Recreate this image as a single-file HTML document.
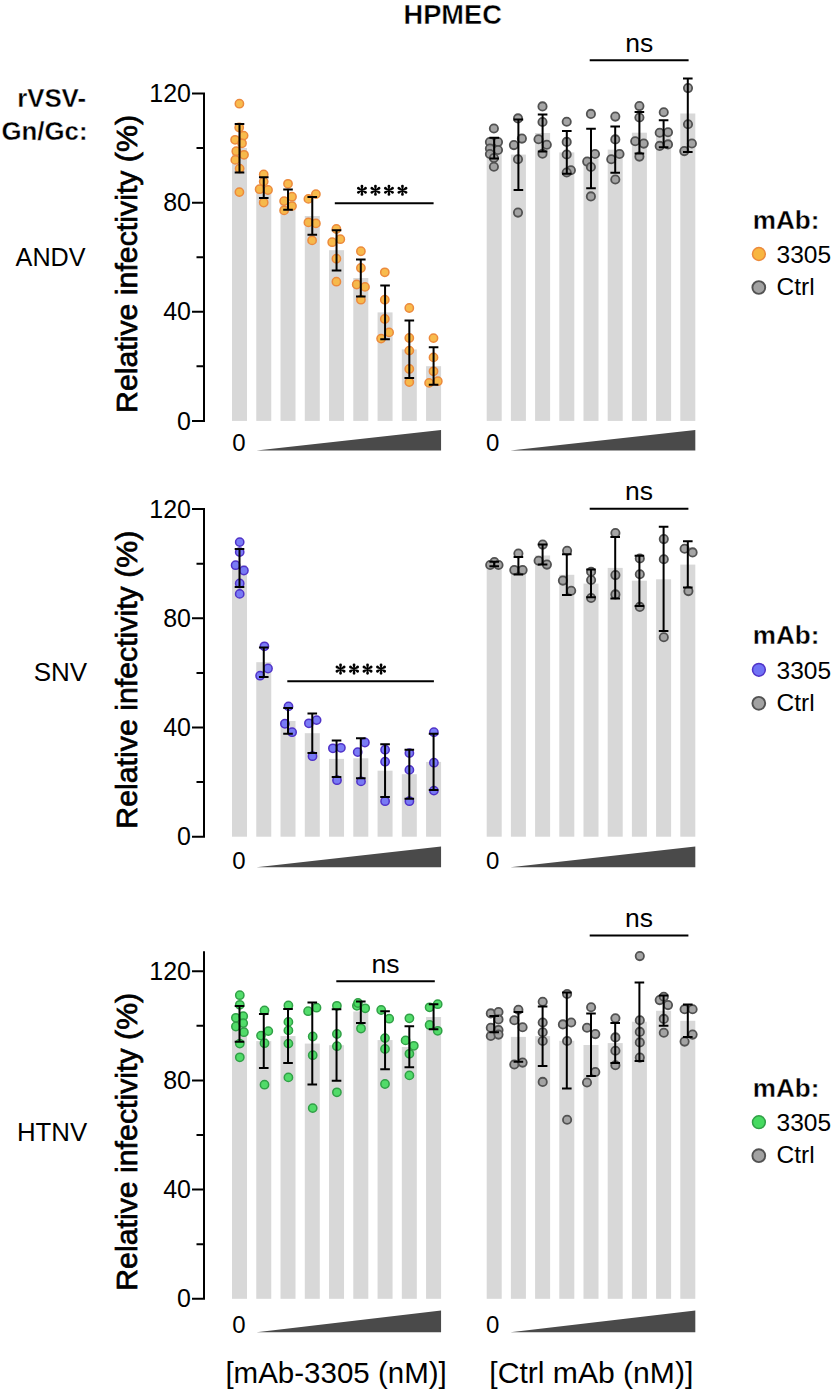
<!DOCTYPE html>
<html><head><meta charset="utf-8"><title>HPMEC</title>
<style>html,body{margin:0;padding:0;background:#fff;}body{width:832px;height:1392px;position:relative;overflow:hidden;font-family:"Liberation Sans",sans-serif;}</style>
</head><body>
<svg width="832" height="1392" viewBox="0 0 832 1392" style="position:absolute;left:0;top:0">
<g font-family='"Liberation Sans", sans-serif' fill="#000">
<text x="452.7" y="24.2" font-size="27.2" font-weight="bold" stroke="#fff" stroke-width="0.4" text-anchor="middle">HPMEC</text>
<text x="86" y="106.5" font-size="25.8" font-weight="bold" stroke="#fff" stroke-width="0.35" text-anchor="end">rVSV-</text>
<text x="87.5" y="139.7" font-size="25.8" font-weight="bold" stroke="#fff" stroke-width="0.35" text-anchor="end">Gn/Gc:</text>
</g>
<path d="M204.0 93.5V420.9M204.0 420.9H193M204.0 311.77H193M204.0 202.63H193M204.0 93.5H193M204.0 366.33H197.5M204.0 257.2H197.5M204.0 148.07H197.5" stroke="#000" stroke-width="2" fill="none" stroke-linecap="square"/>
<g font-family='"Liberation Sans", sans-serif' font-size="25" fill="#000" text-anchor="end">
<text x="191" y="429.5">0</text>
<text x="191" y="320.37">40</text>
<text x="191" y="211.23">80</text>
<text x="191" y="102.1">120</text>
</g>
<rect x="232" y="148" width="15" height="272.9" fill="#d8d8d8"/>
<rect x="256.26" y="187.6" width="15" height="233.3" fill="#d8d8d8"/>
<rect x="280.52" y="199.6" width="15" height="221.3" fill="#d8d8d8"/>
<rect x="304.78" y="216" width="15" height="204.9" fill="#d8d8d8"/>
<rect x="329.04" y="250.2" width="15" height="170.7" fill="#d8d8d8"/>
<rect x="353.3" y="278" width="15" height="142.9" fill="#d8d8d8"/>
<rect x="377.56" y="312.4" width="15" height="108.5" fill="#d8d8d8"/>
<rect x="401.82" y="349.4" width="15" height="71.5" fill="#d8d8d8"/>
<rect x="426.08" y="366.2" width="15" height="54.7" fill="#d8d8d8"/>
<circle cx="239.4" cy="103.7" r="4.15" fill="#f8b640" fill-opacity="0.93" stroke="#ec8a3c" stroke-width="1.5"/>
<circle cx="239.2" cy="127.5" r="4.15" fill="#f8b640" fill-opacity="0.93" stroke="#ec8a3c" stroke-width="1.5"/>
<circle cx="243.6" cy="135.6" r="4.15" fill="#f8b640" fill-opacity="0.93" stroke="#ec8a3c" stroke-width="1.5"/>
<circle cx="235.1" cy="139.8" r="4.15" fill="#f8b640" fill-opacity="0.93" stroke="#ec8a3c" stroke-width="1.5"/>
<circle cx="242" cy="143.3" r="4.15" fill="#f8b640" fill-opacity="0.93" stroke="#ec8a3c" stroke-width="1.5"/>
<circle cx="236.3" cy="151.2" r="4.15" fill="#f8b640" fill-opacity="0.93" stroke="#ec8a3c" stroke-width="1.5"/>
<circle cx="244" cy="154.8" r="4.15" fill="#f8b640" fill-opacity="0.93" stroke="#ec8a3c" stroke-width="1.5"/>
<circle cx="235.3" cy="159.9" r="4.15" fill="#f8b640" fill-opacity="0.93" stroke="#ec8a3c" stroke-width="1.5"/>
<circle cx="239.6" cy="168.6" r="4.15" fill="#f8b640" fill-opacity="0.93" stroke="#ec8a3c" stroke-width="1.5"/>
<circle cx="239.4" cy="192.1" r="4.15" fill="#f8b640" fill-opacity="0.93" stroke="#ec8a3c" stroke-width="1.5"/>
<circle cx="263.7" cy="174.4" r="4.15" fill="#f8b640" fill-opacity="0.93" stroke="#ec8a3c" stroke-width="1.5"/>
<circle cx="263.7" cy="181.6" r="4.15" fill="#f8b640" fill-opacity="0.93" stroke="#ec8a3c" stroke-width="1.5"/>
<circle cx="259.6" cy="189.2" r="4.15" fill="#f8b640" fill-opacity="0.93" stroke="#ec8a3c" stroke-width="1.5"/>
<circle cx="268" cy="190" r="4.15" fill="#f8b640" fill-opacity="0.93" stroke="#ec8a3c" stroke-width="1.5"/>
<circle cx="263.7" cy="202.5" r="4.15" fill="#f8b640" fill-opacity="0.93" stroke="#ec8a3c" stroke-width="1.5"/>
<circle cx="288" cy="183.8" r="4.15" fill="#f8b640" fill-opacity="0.93" stroke="#ec8a3c" stroke-width="1.5"/>
<circle cx="292" cy="196.7" r="4.15" fill="#f8b640" fill-opacity="0.93" stroke="#ec8a3c" stroke-width="1.5"/>
<circle cx="284.1" cy="201.1" r="4.15" fill="#f8b640" fill-opacity="0.93" stroke="#ec8a3c" stroke-width="1.5"/>
<circle cx="292" cy="206.1" r="4.15" fill="#f8b640" fill-opacity="0.93" stroke="#ec8a3c" stroke-width="1.5"/>
<circle cx="284.1" cy="210.4" r="4.15" fill="#f8b640" fill-opacity="0.93" stroke="#ec8a3c" stroke-width="1.5"/>
<circle cx="315.9" cy="194.1" r="4.15" fill="#f8b640" fill-opacity="0.93" stroke="#ec8a3c" stroke-width="1.5"/>
<circle cx="308.4" cy="198.9" r="4.15" fill="#f8b640" fill-opacity="0.93" stroke="#ec8a3c" stroke-width="1.5"/>
<circle cx="308.4" cy="222.4" r="4.15" fill="#f8b640" fill-opacity="0.93" stroke="#ec8a3c" stroke-width="1.5"/>
<circle cx="315.9" cy="223.4" r="4.15" fill="#f8b640" fill-opacity="0.93" stroke="#ec8a3c" stroke-width="1.5"/>
<circle cx="312.1" cy="240.4" r="4.15" fill="#f8b640" fill-opacity="0.93" stroke="#ec8a3c" stroke-width="1.5"/>
<circle cx="336.4" cy="229" r="4.15" fill="#f8b640" fill-opacity="0.93" stroke="#ec8a3c" stroke-width="1.5"/>
<circle cx="340.3" cy="239.2" r="4.15" fill="#f8b640" fill-opacity="0.93" stroke="#ec8a3c" stroke-width="1.5"/>
<circle cx="332.2" cy="242.2" r="4.15" fill="#f8b640" fill-opacity="0.93" stroke="#ec8a3c" stroke-width="1.5"/>
<circle cx="336.4" cy="258.75" r="4.15" fill="#f8b640" fill-opacity="0.93" stroke="#ec8a3c" stroke-width="1.5"/>
<circle cx="336.4" cy="281.7" r="4.15" fill="#f8b640" fill-opacity="0.93" stroke="#ec8a3c" stroke-width="1.5"/>
<circle cx="360.9" cy="251.25" r="4.15" fill="#f8b640" fill-opacity="0.93" stroke="#ec8a3c" stroke-width="1.5"/>
<circle cx="360.9" cy="268" r="4.15" fill="#f8b640" fill-opacity="0.93" stroke="#ec8a3c" stroke-width="1.5"/>
<circle cx="356.7" cy="284.5" r="4.15" fill="#f8b640" fill-opacity="0.93" stroke="#ec8a3c" stroke-width="1.5"/>
<circle cx="365" cy="286.9" r="4.15" fill="#f8b640" fill-opacity="0.93" stroke="#ec8a3c" stroke-width="1.5"/>
<circle cx="360.9" cy="299.7" r="4.15" fill="#f8b640" fill-opacity="0.93" stroke="#ec8a3c" stroke-width="1.5"/>
<circle cx="384.8" cy="272.3" r="4.15" fill="#f8b640" fill-opacity="0.93" stroke="#ec8a3c" stroke-width="1.5"/>
<circle cx="384.8" cy="299.7" r="4.15" fill="#f8b640" fill-opacity="0.93" stroke="#ec8a3c" stroke-width="1.5"/>
<circle cx="384.8" cy="319" r="4.15" fill="#f8b640" fill-opacity="0.93" stroke="#ec8a3c" stroke-width="1.5"/>
<circle cx="389.1" cy="332.4" r="4.15" fill="#f8b640" fill-opacity="0.93" stroke="#ec8a3c" stroke-width="1.5"/>
<circle cx="381.1" cy="338.6" r="4.15" fill="#f8b640" fill-opacity="0.93" stroke="#ec8a3c" stroke-width="1.5"/>
<circle cx="409.3" cy="308" r="4.15" fill="#f8b640" fill-opacity="0.93" stroke="#ec8a3c" stroke-width="1.5"/>
<circle cx="409.3" cy="338" r="4.15" fill="#f8b640" fill-opacity="0.93" stroke="#ec8a3c" stroke-width="1.5"/>
<circle cx="409.3" cy="350.6" r="4.15" fill="#f8b640" fill-opacity="0.93" stroke="#ec8a3c" stroke-width="1.5"/>
<circle cx="409.3" cy="369" r="4.15" fill="#f8b640" fill-opacity="0.93" stroke="#ec8a3c" stroke-width="1.5"/>
<circle cx="409.3" cy="382.1" r="4.15" fill="#f8b640" fill-opacity="0.93" stroke="#ec8a3c" stroke-width="1.5"/>
<circle cx="433.5" cy="338.1" r="4.15" fill="#f8b640" fill-opacity="0.93" stroke="#ec8a3c" stroke-width="1.5"/>
<circle cx="433.5" cy="357.4" r="4.15" fill="#f8b640" fill-opacity="0.93" stroke="#ec8a3c" stroke-width="1.5"/>
<circle cx="433.5" cy="371.3" r="4.15" fill="#f8b640" fill-opacity="0.93" stroke="#ec8a3c" stroke-width="1.5"/>
<circle cx="429.1" cy="382.9" r="4.15" fill="#f8b640" fill-opacity="0.93" stroke="#ec8a3c" stroke-width="1.5"/>
<circle cx="437.8" cy="381.2" r="4.15" fill="#f8b640" fill-opacity="0.93" stroke="#ec8a3c" stroke-width="1.5"/>
<path d="M239.5 123.9V172.4M234.7 123.9H244.3M234.7 172.4H244.3" stroke="#000" stroke-width="2" fill="none"/>
<path d="M263.76 177.3V197.9M258.96 177.3H268.56M258.96 197.9H268.56" stroke="#000" stroke-width="2" fill="none"/>
<path d="M288.02 189.5V209.7M283.22 189.5H292.82M283.22 209.7H292.82" stroke="#000" stroke-width="2" fill="none"/>
<path d="M312.28 197V234.7M307.48 197H317.08M307.48 234.7H317.08" stroke="#000" stroke-width="2" fill="none"/>
<path d="M336.54 230.2V270.5M331.74 230.2H341.34M331.74 270.5H341.34" stroke="#000" stroke-width="2" fill="none"/>
<path d="M360.8 259.4V296.6M356 259.4H365.6M356 296.6H365.6" stroke="#000" stroke-width="2" fill="none"/>
<path d="M385.06 285.6V339.2M380.26 285.6H389.86M380.26 339.2H389.86" stroke="#000" stroke-width="2" fill="none"/>
<path d="M409.32 320.4V378.1M404.52 320.4H414.12M404.52 378.1H414.12" stroke="#000" stroke-width="2" fill="none"/>
<path d="M433.58 347.3V384.8M428.78 347.3H438.38M428.78 384.8H438.38" stroke="#000" stroke-width="2" fill="none"/>
<rect x="486.7" y="148.2" width="15" height="272.7" fill="#d8d8d8"/>
<rect x="510.9" y="154.6" width="15" height="266.3" fill="#d8d8d8"/>
<rect x="535.1" y="133" width="15" height="287.9" fill="#d8d8d8"/>
<rect x="559.3" y="152.4" width="15" height="268.5" fill="#d8d8d8"/>
<rect x="583.5" y="158.5" width="15" height="262.4" fill="#d8d8d8"/>
<rect x="607.7" y="149.6" width="15" height="271.3" fill="#d8d8d8"/>
<rect x="631.9" y="132.7" width="15" height="288.2" fill="#d8d8d8"/>
<rect x="656.1" y="133.7" width="15" height="287.2" fill="#d8d8d8"/>
<rect x="680.3" y="113.5" width="15" height="307.4" fill="#d8d8d8"/>
<circle cx="493.9" cy="128.5" r="4.15" fill="#9e9e9e" fill-opacity="0.93" stroke="#525252" stroke-width="1.8"/>
<circle cx="489.9" cy="142.1" r="4.15" fill="#9e9e9e" fill-opacity="0.93" stroke="#525252" stroke-width="1.8"/>
<circle cx="498" cy="142.1" r="4.15" fill="#9e9e9e" fill-opacity="0.93" stroke="#525252" stroke-width="1.8"/>
<circle cx="489.9" cy="148.5" r="4.15" fill="#9e9e9e" fill-opacity="0.93" stroke="#525252" stroke-width="1.8"/>
<circle cx="498" cy="150" r="4.15" fill="#9e9e9e" fill-opacity="0.93" stroke="#525252" stroke-width="1.8"/>
<circle cx="489.9" cy="154" r="4.15" fill="#9e9e9e" fill-opacity="0.93" stroke="#525252" stroke-width="1.8"/>
<circle cx="493.9" cy="158" r="4.15" fill="#9e9e9e" fill-opacity="0.93" stroke="#525252" stroke-width="1.8"/>
<circle cx="493.9" cy="166.8" r="4.15" fill="#9e9e9e" fill-opacity="0.93" stroke="#525252" stroke-width="1.8"/>
<circle cx="518" cy="118.4" r="4.15" fill="#9e9e9e" fill-opacity="0.93" stroke="#525252" stroke-width="1.8"/>
<circle cx="521.9" cy="138.6" r="4.15" fill="#9e9e9e" fill-opacity="0.93" stroke="#525252" stroke-width="1.8"/>
<circle cx="513.9" cy="145.1" r="4.15" fill="#9e9e9e" fill-opacity="0.93" stroke="#525252" stroke-width="1.8"/>
<circle cx="518" cy="159.2" r="4.15" fill="#9e9e9e" fill-opacity="0.93" stroke="#525252" stroke-width="1.8"/>
<circle cx="518" cy="212.6" r="4.15" fill="#9e9e9e" fill-opacity="0.93" stroke="#525252" stroke-width="1.8"/>
<circle cx="542.5" cy="106.4" r="4.15" fill="#9e9e9e" fill-opacity="0.93" stroke="#525252" stroke-width="1.8"/>
<circle cx="542.5" cy="122" r="4.15" fill="#9e9e9e" fill-opacity="0.93" stroke="#525252" stroke-width="1.8"/>
<circle cx="538.5" cy="139.3" r="4.15" fill="#9e9e9e" fill-opacity="0.93" stroke="#525252" stroke-width="1.8"/>
<circle cx="546.8" cy="144.8" r="4.15" fill="#9e9e9e" fill-opacity="0.93" stroke="#525252" stroke-width="1.8"/>
<circle cx="542.5" cy="153.75" r="4.15" fill="#9e9e9e" fill-opacity="0.93" stroke="#525252" stroke-width="1.8"/>
<circle cx="566.7" cy="121.7" r="4.15" fill="#9e9e9e" fill-opacity="0.93" stroke="#525252" stroke-width="1.8"/>
<circle cx="566.7" cy="141.9" r="4.15" fill="#9e9e9e" fill-opacity="0.93" stroke="#525252" stroke-width="1.8"/>
<circle cx="566.7" cy="154.5" r="4.15" fill="#9e9e9e" fill-opacity="0.93" stroke="#525252" stroke-width="1.8"/>
<circle cx="570.9" cy="170.3" r="4.15" fill="#9e9e9e" fill-opacity="0.93" stroke="#525252" stroke-width="1.8"/>
<circle cx="566.7" cy="172.5" r="4.15" fill="#9e9e9e" fill-opacity="0.93" stroke="#525252" stroke-width="1.8"/>
<circle cx="590.9" cy="113.9" r="4.15" fill="#9e9e9e" fill-opacity="0.93" stroke="#525252" stroke-width="1.8"/>
<circle cx="595" cy="154" r="4.15" fill="#9e9e9e" fill-opacity="0.93" stroke="#525252" stroke-width="1.8"/>
<circle cx="587.2" cy="161.6" r="4.15" fill="#9e9e9e" fill-opacity="0.93" stroke="#525252" stroke-width="1.8"/>
<circle cx="590.9" cy="167" r="4.15" fill="#9e9e9e" fill-opacity="0.93" stroke="#525252" stroke-width="1.8"/>
<circle cx="590.9" cy="196.4" r="4.15" fill="#9e9e9e" fill-opacity="0.93" stroke="#525252" stroke-width="1.8"/>
<circle cx="615.3" cy="116.6" r="4.15" fill="#9e9e9e" fill-opacity="0.93" stroke="#525252" stroke-width="1.8"/>
<circle cx="615.3" cy="139.4" r="4.15" fill="#9e9e9e" fill-opacity="0.93" stroke="#525252" stroke-width="1.8"/>
<circle cx="619.5" cy="154" r="4.15" fill="#9e9e9e" fill-opacity="0.93" stroke="#525252" stroke-width="1.8"/>
<circle cx="611.25" cy="159.2" r="4.15" fill="#9e9e9e" fill-opacity="0.93" stroke="#525252" stroke-width="1.8"/>
<circle cx="615.3" cy="179.5" r="4.15" fill="#9e9e9e" fill-opacity="0.93" stroke="#525252" stroke-width="1.8"/>
<circle cx="639.4" cy="106.1" r="4.15" fill="#9e9e9e" fill-opacity="0.93" stroke="#525252" stroke-width="1.8"/>
<circle cx="639.4" cy="117.5" r="4.15" fill="#9e9e9e" fill-opacity="0.93" stroke="#525252" stroke-width="1.8"/>
<circle cx="635.2" cy="141.25" r="4.15" fill="#9e9e9e" fill-opacity="0.93" stroke="#525252" stroke-width="1.8"/>
<circle cx="643.75" cy="143.6" r="4.15" fill="#9e9e9e" fill-opacity="0.93" stroke="#525252" stroke-width="1.8"/>
<circle cx="639.4" cy="156.6" r="4.15" fill="#9e9e9e" fill-opacity="0.93" stroke="#525252" stroke-width="1.8"/>
<circle cx="663.75" cy="112.3" r="4.15" fill="#9e9e9e" fill-opacity="0.93" stroke="#525252" stroke-width="1.8"/>
<circle cx="659.7" cy="132.7" r="4.15" fill="#9e9e9e" fill-opacity="0.93" stroke="#525252" stroke-width="1.8"/>
<circle cx="668" cy="132.2" r="4.15" fill="#9e9e9e" fill-opacity="0.93" stroke="#525252" stroke-width="1.8"/>
<circle cx="659.7" cy="145.9" r="4.15" fill="#9e9e9e" fill-opacity="0.93" stroke="#525252" stroke-width="1.8"/>
<circle cx="668" cy="144.4" r="4.15" fill="#9e9e9e" fill-opacity="0.93" stroke="#525252" stroke-width="1.8"/>
<circle cx="688" cy="88.1" r="4.15" fill="#9e9e9e" fill-opacity="0.93" stroke="#525252" stroke-width="1.8"/>
<circle cx="688" cy="124.3" r="4.15" fill="#9e9e9e" fill-opacity="0.93" stroke="#525252" stroke-width="1.8"/>
<circle cx="691.9" cy="143.5" r="4.15" fill="#9e9e9e" fill-opacity="0.93" stroke="#525252" stroke-width="1.8"/>
<circle cx="684.3" cy="151.1" r="4.15" fill="#9e9e9e" fill-opacity="0.93" stroke="#525252" stroke-width="1.8"/>
<path d="M494.2 137.7V158.4M489.4 137.7H499M489.4 158.4H499" stroke="#000" stroke-width="2" fill="none"/>
<path d="M518.4 119.4V190.1M513.6 119.4H523.2M513.6 190.1H523.2" stroke="#000" stroke-width="2" fill="none"/>
<path d="M542.6 114.5V151.6M537.8 114.5H547.4M537.8 151.6H547.4" stroke="#000" stroke-width="2" fill="none"/>
<path d="M566.8 131V173.7M562 131H571.6M562 173.7H571.6" stroke="#000" stroke-width="2" fill="none"/>
<path d="M591 128.8V188.3M586.2 128.8H595.8M586.2 188.3H595.8" stroke="#000" stroke-width="2" fill="none"/>
<path d="M615.2 126.4V172.8M610.4 126.4H620M610.4 172.8H620" stroke="#000" stroke-width="2" fill="none"/>
<path d="M639.4 112V153.4M634.6 112H644.2M634.6 153.4H644.2" stroke="#000" stroke-width="2" fill="none"/>
<path d="M663.6 120.2V147.2M658.8 120.2H668.4M658.8 147.2H668.4" stroke="#000" stroke-width="2" fill="none"/>
<path d="M687.8 78.6V152.1M683 78.6H692.6M683 152.1H692.6" stroke="#000" stroke-width="2" fill="none"/>
<path d="M334.8 203.3H433.6" stroke="#000" stroke-width="2"/>
<path d="M361.5 190.3L360.55 194.45A1.4 1.4 0 0 0 363.35 194.45L362.4 190.3ZM361.72 190.69L364.84 193.59A1.4 1.4 0 0 0 366.24 191.16L362.18 189.91ZM362.18 190.69L366.24 189.44A1.4 1.4 0 0 0 364.84 187.01L361.72 189.91ZM362.4 190.3L363.35 186.15A1.4 1.4 0 0 0 360.55 186.15L361.5 190.3ZM362.18 189.91L359.06 187.01A1.4 1.4 0 0 0 357.66 189.44L361.72 190.69ZM361.72 189.91L357.66 191.16A1.4 1.4 0 0 0 359.06 193.59L362.18 190.69Z" fill="#000"/>
<path d="M375 190.3L374.05 194.45A1.4 1.4 0 0 0 376.85 194.45L375.9 190.3ZM375.22 190.69L378.34 193.59A1.4 1.4 0 0 0 379.74 191.16L375.68 189.91ZM375.68 190.69L379.74 189.44A1.4 1.4 0 0 0 378.34 187.01L375.22 189.91ZM375.9 190.3L376.85 186.15A1.4 1.4 0 0 0 374.05 186.15L375 190.3ZM375.68 189.91L372.56 187.01A1.4 1.4 0 0 0 371.16 189.44L375.22 190.69ZM375.22 189.91L371.16 191.16A1.4 1.4 0 0 0 372.56 193.59L375.68 190.69Z" fill="#000"/>
<path d="M388.5 190.3L387.55 194.45A1.4 1.4 0 0 0 390.35 194.45L389.4 190.3ZM388.72 190.69L391.84 193.59A1.4 1.4 0 0 0 393.24 191.16L389.18 189.91ZM389.18 190.69L393.24 189.44A1.4 1.4 0 0 0 391.84 187.01L388.72 189.91ZM389.4 190.3L390.35 186.15A1.4 1.4 0 0 0 387.55 186.15L388.5 190.3ZM389.18 189.91L386.06 187.01A1.4 1.4 0 0 0 384.66 189.44L388.72 190.69ZM388.72 189.91L384.66 191.16A1.4 1.4 0 0 0 386.06 193.59L389.18 190.69Z" fill="#000"/>
<path d="M402 190.3L401.05 194.45A1.4 1.4 0 0 0 403.85 194.45L402.9 190.3ZM402.22 190.69L405.34 193.59A1.4 1.4 0 0 0 406.74 191.16L402.68 189.91ZM402.68 190.69L406.74 189.44A1.4 1.4 0 0 0 405.34 187.01L402.22 189.91ZM402.9 190.3L403.85 186.15A1.4 1.4 0 0 0 401.05 186.15L402 190.3ZM402.68 189.91L399.56 187.01A1.4 1.4 0 0 0 398.16 189.44L402.22 190.69ZM402.22 189.91L398.16 191.16A1.4 1.4 0 0 0 399.56 193.59L402.68 190.69Z" fill="#000"/>
<path d="M589.7 60.3H688.6" stroke="#000" stroke-width="2"/>
<text x="639.15" y="51.8" font-family='"Liberation Sans", sans-serif' font-size="26.5" text-anchor="middle">ns</text>
<path d="M256.5 450.5L441.08 430V450.5Z" fill="#4a4a4a"/>
<text x="239" y="451.3" font-family='"Liberation Sans", sans-serif' font-size="24" text-anchor="middle">0</text>
<path d="M510.4 450.5L695.3 430V450.5Z" fill="#4a4a4a"/>
<text x="492.6" y="451.3" font-family='"Liberation Sans", sans-serif' font-size="24" text-anchor="middle">0</text>
<text x="85.6" y="266" font-family='"Liberation Sans", sans-serif' font-size="25.2" text-anchor="end">ANDV</text>
<text transform="translate(137.3 264) rotate(-90)" font-family='"Liberation Sans", sans-serif' font-size="29.6" stroke="#000" stroke-width="0.7" text-anchor="middle" textLength="298" lengthAdjust="spacingAndGlyphs">Relative infectivity (%)</text>
<text x="752.8" y="228.6" font-family='"Liberation Sans", sans-serif' font-size="26.1" font-weight="bold" stroke="#fff" stroke-width="0.35">mAb:</text>
<circle cx="758.9" cy="254" r="6.4" fill="#f8b640" stroke="#ec8a3c" stroke-width="1.5"/>
<circle cx="758.8" cy="287.5" r="6.4" fill="#a2a2a2" stroke="#525252" stroke-width="1.9"/>
<text x="776.5" y="263" font-family='"Liberation Sans", sans-serif' font-size="24.5">3305</text>
<text x="776.5" y="295.2" font-family='"Liberation Sans", sans-serif' font-size="24.5">Ctrl</text>
<path d="M204.0 509.1V836.7M204.0 836.7H193M204.0 727.5H193M204.0 618.3H193M204.0 509.1H193M204.0 782.1H197.5M204.0 672.9H197.5M204.0 563.7H197.5" stroke="#000" stroke-width="2" fill="none" stroke-linecap="square"/>
<g font-family='"Liberation Sans", sans-serif' font-size="25" fill="#000" text-anchor="end">
<text x="191" y="845.3">0</text>
<text x="191" y="736.1">40</text>
<text x="191" y="626.9">80</text>
<text x="191" y="517.7">120</text>
</g>
<rect x="232" y="565.5" width="15" height="271.2" fill="#d8d8d8"/>
<rect x="256.26" y="662.2" width="15" height="174.5" fill="#d8d8d8"/>
<rect x="280.52" y="721" width="15" height="115.7" fill="#d8d8d8"/>
<rect x="304.78" y="733.2" width="15" height="103.5" fill="#d8d8d8"/>
<rect x="329.04" y="758.9" width="15" height="77.8" fill="#d8d8d8"/>
<rect x="353.3" y="758.3" width="15" height="78.4" fill="#d8d8d8"/>
<rect x="377.56" y="770.7" width="15" height="66" fill="#d8d8d8"/>
<rect x="401.82" y="774.2" width="15" height="62.5" fill="#d8d8d8"/>
<rect x="426.08" y="761.9" width="15" height="74.8" fill="#d8d8d8"/>
<circle cx="239.7" cy="542.1" r="4.15" fill="#7072f5" fill-opacity="0.93" stroke="#4f32c8" stroke-width="1.5"/>
<circle cx="239.7" cy="552.1" r="4.15" fill="#7072f5" fill-opacity="0.93" stroke="#4f32c8" stroke-width="1.5"/>
<circle cx="235.6" cy="565.2" r="4.15" fill="#7072f5" fill-opacity="0.93" stroke="#4f32c8" stroke-width="1.5"/>
<circle cx="243.9" cy="570.5" r="4.15" fill="#7072f5" fill-opacity="0.93" stroke="#4f32c8" stroke-width="1.5"/>
<circle cx="239.7" cy="583.5" r="4.15" fill="#7072f5" fill-opacity="0.93" stroke="#4f32c8" stroke-width="1.5"/>
<circle cx="239.7" cy="593.9" r="4.15" fill="#7072f5" fill-opacity="0.93" stroke="#4f32c8" stroke-width="1.5"/>
<circle cx="264.4" cy="646.3" r="4.15" fill="#7072f5" fill-opacity="0.93" stroke="#4f32c8" stroke-width="1.5"/>
<circle cx="268" cy="668.5" r="4.15" fill="#7072f5" fill-opacity="0.93" stroke="#4f32c8" stroke-width="1.5"/>
<circle cx="260.1" cy="675.7" r="4.15" fill="#7072f5" fill-opacity="0.93" stroke="#4f32c8" stroke-width="1.5"/>
<circle cx="288.5" cy="706.4" r="4.15" fill="#7072f5" fill-opacity="0.93" stroke="#4f32c8" stroke-width="1.5"/>
<circle cx="284.9" cy="723.75" r="4.15" fill="#7072f5" fill-opacity="0.93" stroke="#4f32c8" stroke-width="1.5"/>
<circle cx="292.1" cy="732.2" r="4.15" fill="#7072f5" fill-opacity="0.93" stroke="#4f32c8" stroke-width="1.5"/>
<circle cx="308.9" cy="723.3" r="4.15" fill="#7072f5" fill-opacity="0.93" stroke="#4f32c8" stroke-width="1.5"/>
<circle cx="316.6" cy="720.1" r="4.15" fill="#7072f5" fill-opacity="0.93" stroke="#4f32c8" stroke-width="1.5"/>
<circle cx="312.5" cy="756.2" r="4.15" fill="#7072f5" fill-opacity="0.93" stroke="#4f32c8" stroke-width="1.5"/>
<circle cx="332.9" cy="748.3" r="4.15" fill="#7072f5" fill-opacity="0.93" stroke="#4f32c8" stroke-width="1.5"/>
<circle cx="340.9" cy="747.8" r="4.15" fill="#7072f5" fill-opacity="0.93" stroke="#4f32c8" stroke-width="1.5"/>
<circle cx="337" cy="780.2" r="4.15" fill="#7072f5" fill-opacity="0.93" stroke="#4f32c8" stroke-width="1.5"/>
<circle cx="357.7" cy="752.1" r="4.15" fill="#7072f5" fill-opacity="0.93" stroke="#4f32c8" stroke-width="1.5"/>
<circle cx="364.9" cy="742.5" r="4.15" fill="#7072f5" fill-opacity="0.93" stroke="#4f32c8" stroke-width="1.5"/>
<circle cx="361" cy="781.4" r="4.15" fill="#7072f5" fill-opacity="0.93" stroke="#4f32c8" stroke-width="1.5"/>
<circle cx="385.1" cy="749.7" r="4.15" fill="#7072f5" fill-opacity="0.93" stroke="#4f32c8" stroke-width="1.5"/>
<circle cx="385.1" cy="761.7" r="4.15" fill="#7072f5" fill-opacity="0.93" stroke="#4f32c8" stroke-width="1.5"/>
<circle cx="385.1" cy="801.2" r="4.15" fill="#7072f5" fill-opacity="0.93" stroke="#4f32c8" stroke-width="1.5"/>
<circle cx="409.4" cy="753.1" r="4.15" fill="#7072f5" fill-opacity="0.93" stroke="#4f32c8" stroke-width="1.5"/>
<circle cx="409.4" cy="769.9" r="4.15" fill="#7072f5" fill-opacity="0.93" stroke="#4f32c8" stroke-width="1.5"/>
<circle cx="409.4" cy="801.2" r="4.15" fill="#7072f5" fill-opacity="0.93" stroke="#4f32c8" stroke-width="1.5"/>
<circle cx="433.9" cy="732.2" r="4.15" fill="#7072f5" fill-opacity="0.93" stroke="#4f32c8" stroke-width="1.5"/>
<circle cx="433.9" cy="762.7" r="4.15" fill="#7072f5" fill-opacity="0.93" stroke="#4f32c8" stroke-width="1.5"/>
<circle cx="433.9" cy="790.6" r="4.15" fill="#7072f5" fill-opacity="0.93" stroke="#4f32c8" stroke-width="1.5"/>
<path d="M239.5 549V587M234.7 549H244.3M234.7 587H244.3" stroke="#000" stroke-width="2" fill="none"/>
<path d="M263.76 647.5V676.9M258.96 647.5H268.56M258.96 676.9H268.56" stroke="#000" stroke-width="2" fill="none"/>
<path d="M288.02 708.1V733.8M283.22 708.1H292.82M283.22 733.8H292.82" stroke="#000" stroke-width="2" fill="none"/>
<path d="M312.28 713.4V753.1M307.48 713.4H317.08M307.48 753.1H317.08" stroke="#000" stroke-width="2" fill="none"/>
<path d="M336.54 740.6V777.1M331.74 740.6H341.34M331.74 777.1H341.34" stroke="#000" stroke-width="2" fill="none"/>
<path d="M360.8 738.2V778.3M356 738.2H365.6M356 778.3H365.6" stroke="#000" stroke-width="2" fill="none"/>
<path d="M385.06 744.2V797.1M380.26 744.2H389.86M380.26 797.1H389.86" stroke="#000" stroke-width="2" fill="none"/>
<path d="M409.32 749.7V798.75M404.52 749.7H414.12M404.52 798.75H414.12" stroke="#000" stroke-width="2" fill="none"/>
<path d="M433.58 733.8V789.9M428.78 733.8H438.38M428.78 789.9H438.38" stroke="#000" stroke-width="2" fill="none"/>
<rect x="486.7" y="565" width="15" height="271.7" fill="#d8d8d8"/>
<rect x="510.9" y="566" width="15" height="270.7" fill="#d8d8d8"/>
<rect x="535.1" y="555.5" width="15" height="281.2" fill="#d8d8d8"/>
<rect x="559.3" y="574.8" width="15" height="261.9" fill="#d8d8d8"/>
<rect x="583.5" y="583.6" width="15" height="253.1" fill="#d8d8d8"/>
<rect x="607.7" y="567.9" width="15" height="268.8" fill="#d8d8d8"/>
<rect x="631.9" y="580.7" width="15" height="256" fill="#d8d8d8"/>
<rect x="656.1" y="579.3" width="15" height="257.4" fill="#d8d8d8"/>
<rect x="680.3" y="564.6" width="15" height="272.1" fill="#d8d8d8"/>
<circle cx="494.4" cy="562" r="4.15" fill="#9e9e9e" fill-opacity="0.93" stroke="#525252" stroke-width="1.8"/>
<circle cx="490.2" cy="565" r="4.15" fill="#9e9e9e" fill-opacity="0.93" stroke="#525252" stroke-width="1.8"/>
<circle cx="498.5" cy="565" r="4.15" fill="#9e9e9e" fill-opacity="0.93" stroke="#525252" stroke-width="1.8"/>
<circle cx="518.4" cy="553.5" r="4.15" fill="#9e9e9e" fill-opacity="0.93" stroke="#525252" stroke-width="1.8"/>
<circle cx="514.3" cy="570.1" r="4.15" fill="#9e9e9e" fill-opacity="0.93" stroke="#525252" stroke-width="1.8"/>
<circle cx="522.6" cy="570.1" r="4.15" fill="#9e9e9e" fill-opacity="0.93" stroke="#525252" stroke-width="1.8"/>
<circle cx="542.7" cy="544.6" r="4.15" fill="#9e9e9e" fill-opacity="0.93" stroke="#525252" stroke-width="1.8"/>
<circle cx="538.6" cy="560.7" r="4.15" fill="#9e9e9e" fill-opacity="0.93" stroke="#525252" stroke-width="1.8"/>
<circle cx="546.9" cy="564.6" r="4.15" fill="#9e9e9e" fill-opacity="0.93" stroke="#525252" stroke-width="1.8"/>
<circle cx="567.1" cy="550.7" r="4.15" fill="#9e9e9e" fill-opacity="0.93" stroke="#525252" stroke-width="1.8"/>
<circle cx="562.9" cy="580.6" r="4.15" fill="#9e9e9e" fill-opacity="0.93" stroke="#525252" stroke-width="1.8"/>
<circle cx="571.2" cy="590.8" r="4.15" fill="#9e9e9e" fill-opacity="0.93" stroke="#525252" stroke-width="1.8"/>
<circle cx="591.1" cy="571.7" r="4.15" fill="#9e9e9e" fill-opacity="0.93" stroke="#525252" stroke-width="1.8"/>
<circle cx="591.1" cy="580" r="4.15" fill="#9e9e9e" fill-opacity="0.93" stroke="#525252" stroke-width="1.8"/>
<circle cx="591.1" cy="598" r="4.15" fill="#9e9e9e" fill-opacity="0.93" stroke="#525252" stroke-width="1.8"/>
<circle cx="615.4" cy="533" r="4.15" fill="#9e9e9e" fill-opacity="0.93" stroke="#525252" stroke-width="1.8"/>
<circle cx="615.4" cy="575.1" r="4.15" fill="#9e9e9e" fill-opacity="0.93" stroke="#525252" stroke-width="1.8"/>
<circle cx="615.4" cy="594.4" r="4.15" fill="#9e9e9e" fill-opacity="0.93" stroke="#525252" stroke-width="1.8"/>
<circle cx="639.8" cy="558.5" r="4.15" fill="#9e9e9e" fill-opacity="0.93" stroke="#525252" stroke-width="1.8"/>
<circle cx="639.8" cy="574.2" r="4.15" fill="#9e9e9e" fill-opacity="0.93" stroke="#525252" stroke-width="1.8"/>
<circle cx="639.8" cy="606.9" r="4.15" fill="#9e9e9e" fill-opacity="0.93" stroke="#525252" stroke-width="1.8"/>
<circle cx="663.8" cy="539.1" r="4.15" fill="#9e9e9e" fill-opacity="0.93" stroke="#525252" stroke-width="1.8"/>
<circle cx="663.8" cy="559.3" r="4.15" fill="#9e9e9e" fill-opacity="0.93" stroke="#525252" stroke-width="1.8"/>
<circle cx="663.8" cy="637.3" r="4.15" fill="#9e9e9e" fill-opacity="0.93" stroke="#525252" stroke-width="1.8"/>
<circle cx="684.6" cy="548.8" r="4.15" fill="#9e9e9e" fill-opacity="0.93" stroke="#525252" stroke-width="1.8"/>
<circle cx="692.6" cy="552.4" r="4.15" fill="#9e9e9e" fill-opacity="0.93" stroke="#525252" stroke-width="1.8"/>
<circle cx="688.4" cy="591.1" r="4.15" fill="#9e9e9e" fill-opacity="0.93" stroke="#525252" stroke-width="1.8"/>
<path d="M494.2 561.8V566.2M489.4 561.8H499M489.4 566.2H499" stroke="#000" stroke-width="2" fill="none"/>
<path d="M518.4 557.1V574.5M513.6 557.1H523.2M513.6 574.5H523.2" stroke="#000" stroke-width="2" fill="none"/>
<path d="M542.6 544.6V564.6M537.8 544.6H547.4M537.8 564.6H547.4" stroke="#000" stroke-width="2" fill="none"/>
<path d="M566.8 554.3V595M562 554.3H571.6M562 595H571.6" stroke="#000" stroke-width="2" fill="none"/>
<path d="M591 569.5V597.2M586.2 569.5H595.8M586.2 597.2H595.8" stroke="#000" stroke-width="2" fill="none"/>
<path d="M615.2 536.9V598.6M610.4 536.9H620M610.4 598.6H620" stroke="#000" stroke-width="2" fill="none"/>
<path d="M639.4 555.7V606M634.6 555.7H644.2M634.6 606H644.2" stroke="#000" stroke-width="2" fill="none"/>
<path d="M663.6 526.7V630.9M658.8 526.7H668.4M658.8 630.9H668.4" stroke="#000" stroke-width="2" fill="none"/>
<path d="M687.8 541.3V587.5M683 541.3H692.6M683 587.5H692.6" stroke="#000" stroke-width="2" fill="none"/>
<path d="M287.3 681.2H433.9" stroke="#000" stroke-width="2"/>
<path d="M340.1 669.1L339.15 673.25A1.4 1.4 0 0 0 341.95 673.25L341 669.1ZM340.32 669.49L343.44 672.39A1.4 1.4 0 0 0 344.84 669.96L340.78 668.71ZM340.78 669.49L344.84 668.24A1.4 1.4 0 0 0 343.44 665.81L340.32 668.71ZM341 669.1L341.95 664.95A1.4 1.4 0 0 0 339.15 664.95L340.1 669.1ZM340.78 668.71L337.66 665.81A1.4 1.4 0 0 0 336.26 668.24L340.32 669.49ZM340.32 668.71L336.26 669.96A1.4 1.4 0 0 0 337.66 672.39L340.78 669.49Z" fill="#000"/>
<path d="M353.6 669.1L352.65 673.25A1.4 1.4 0 0 0 355.45 673.25L354.5 669.1ZM353.82 669.49L356.94 672.39A1.4 1.4 0 0 0 358.34 669.96L354.28 668.71ZM354.28 669.49L358.34 668.24A1.4 1.4 0 0 0 356.94 665.81L353.82 668.71ZM354.5 669.1L355.45 664.95A1.4 1.4 0 0 0 352.65 664.95L353.6 669.1ZM354.28 668.71L351.16 665.81A1.4 1.4 0 0 0 349.76 668.24L353.82 669.49ZM353.82 668.71L349.76 669.96A1.4 1.4 0 0 0 351.16 672.39L354.28 669.49Z" fill="#000"/>
<path d="M367.1 669.1L366.15 673.25A1.4 1.4 0 0 0 368.95 673.25L368 669.1ZM367.32 669.49L370.44 672.39A1.4 1.4 0 0 0 371.84 669.96L367.78 668.71ZM367.78 669.49L371.84 668.24A1.4 1.4 0 0 0 370.44 665.81L367.32 668.71ZM368 669.1L368.95 664.95A1.4 1.4 0 0 0 366.15 664.95L367.1 669.1ZM367.78 668.71L364.66 665.81A1.4 1.4 0 0 0 363.26 668.24L367.32 669.49ZM367.32 668.71L363.26 669.96A1.4 1.4 0 0 0 364.66 672.39L367.78 669.49Z" fill="#000"/>
<path d="M380.6 669.1L379.65 673.25A1.4 1.4 0 0 0 382.45 673.25L381.5 669.1ZM380.82 669.49L383.94 672.39A1.4 1.4 0 0 0 385.34 669.96L381.28 668.71ZM381.28 669.49L385.34 668.24A1.4 1.4 0 0 0 383.94 665.81L380.82 668.71ZM381.5 669.1L382.45 664.95A1.4 1.4 0 0 0 379.65 664.95L380.6 669.1ZM381.28 668.71L378.16 665.81A1.4 1.4 0 0 0 376.76 668.24L380.82 669.49ZM380.82 668.71L376.76 669.96A1.4 1.4 0 0 0 378.16 672.39L381.28 669.49Z" fill="#000"/>
<path d="M589.7 508.7H688.4" stroke="#000" stroke-width="2"/>
<text x="639.05" y="500.2" font-family='"Liberation Sans", sans-serif' font-size="26.5" text-anchor="middle">ns</text>
<path d="M256.5 867.3L441.08 846.4V867.3Z" fill="#4a4a4a"/>
<text x="239" y="868.8" font-family='"Liberation Sans", sans-serif' font-size="24" text-anchor="middle">0</text>
<path d="M510.4 867.3L695.3 846.4V867.3Z" fill="#4a4a4a"/>
<text x="492.6" y="868.8" font-family='"Liberation Sans", sans-serif' font-size="24" text-anchor="middle">0</text>
<text x="87.2" y="680.9" font-family='"Liberation Sans", sans-serif' font-size="26" text-anchor="end">SNV</text>
<text transform="translate(137.3 679.7) rotate(-90)" font-family='"Liberation Sans", sans-serif' font-size="29.6" stroke="#000" stroke-width="0.7" text-anchor="middle" textLength="298" lengthAdjust="spacingAndGlyphs">Relative infectivity (%)</text>
<text x="752.8" y="644.4" font-family='"Liberation Sans", sans-serif' font-size="26.1" font-weight="bold" stroke="#fff" stroke-width="0.35">mAb:</text>
<circle cx="758.9" cy="669.8" r="6.4" fill="#7072f5" stroke="#4f32c8" stroke-width="1.5"/>
<circle cx="758.8" cy="703.3" r="6.4" fill="#a2a2a2" stroke="#525252" stroke-width="1.9"/>
<text x="776.5" y="678.8" font-family='"Liberation Sans", sans-serif' font-size="24.5">3305</text>
<text x="776.5" y="711" font-family='"Liberation Sans", sans-serif' font-size="24.5">Ctrl</text>
<path d="M204.0 952.3V1298.8M204.0 1298.8H193M204.0 1189.62H193M204.0 1080.43H193M204.0 971.25H193M204.0 1244.21H197.5M204.0 1135.03H197.5M204.0 1025.84H197.5" stroke="#000" stroke-width="2" fill="none" stroke-linecap="square"/>
<g font-family='"Liberation Sans", sans-serif' font-size="25" fill="#000" text-anchor="end">
<text x="191" y="1307.4">0</text>
<text x="191" y="1198.22">40</text>
<text x="191" y="1089.03">80</text>
<text x="191" y="979.85">120</text>
</g>
<rect x="232" y="1024" width="15" height="274.8" fill="#d8d8d8"/>
<rect x="256.26" y="1041.1" width="15" height="257.7" fill="#d8d8d8"/>
<rect x="280.52" y="1036.1" width="15" height="262.7" fill="#d8d8d8"/>
<rect x="304.78" y="1043.6" width="15" height="255.2" fill="#d8d8d8"/>
<rect x="329.04" y="1045.2" width="15" height="253.6" fill="#d8d8d8"/>
<rect x="353.3" y="1011.5" width="15" height="287.3" fill="#d8d8d8"/>
<rect x="377.56" y="1040.1" width="15" height="258.7" fill="#d8d8d8"/>
<rect x="401.82" y="1047" width="15" height="251.8" fill="#d8d8d8"/>
<rect x="426.08" y="1017" width="15" height="281.8" fill="#d8d8d8"/>
<circle cx="239.8" cy="995.2" r="4.15" fill="#46da60" fill-opacity="0.93" stroke="#30a046" stroke-width="1.5"/>
<circle cx="239.8" cy="1004.8" r="4.15" fill="#46da60" fill-opacity="0.93" stroke="#30a046" stroke-width="1.5"/>
<circle cx="235.9" cy="1017.8" r="4.15" fill="#46da60" fill-opacity="0.93" stroke="#30a046" stroke-width="1.5"/>
<circle cx="243.2" cy="1016.2" r="4.15" fill="#46da60" fill-opacity="0.93" stroke="#30a046" stroke-width="1.5"/>
<circle cx="235.9" cy="1026.5" r="4.15" fill="#46da60" fill-opacity="0.93" stroke="#30a046" stroke-width="1.5"/>
<circle cx="243.2" cy="1023.1" r="4.15" fill="#46da60" fill-opacity="0.93" stroke="#30a046" stroke-width="1.5"/>
<circle cx="243.9" cy="1032.2" r="4.15" fill="#46da60" fill-opacity="0.93" stroke="#30a046" stroke-width="1.5"/>
<circle cx="239.8" cy="1043.6" r="4.15" fill="#46da60" fill-opacity="0.93" stroke="#30a046" stroke-width="1.5"/>
<circle cx="239.8" cy="1057.3" r="4.15" fill="#46da60" fill-opacity="0.93" stroke="#30a046" stroke-width="1.5"/>
<circle cx="264.5" cy="1010.5" r="4.15" fill="#46da60" fill-opacity="0.93" stroke="#30a046" stroke-width="1.5"/>
<circle cx="268.3" cy="1031.1" r="4.15" fill="#46da60" fill-opacity="0.93" stroke="#30a046" stroke-width="1.5"/>
<circle cx="261" cy="1035.6" r="4.15" fill="#46da60" fill-opacity="0.93" stroke="#30a046" stroke-width="1.5"/>
<circle cx="264.5" cy="1043.2" r="4.15" fill="#46da60" fill-opacity="0.93" stroke="#30a046" stroke-width="1.5"/>
<circle cx="264.5" cy="1084.7" r="4.15" fill="#46da60" fill-opacity="0.93" stroke="#30a046" stroke-width="1.5"/>
<circle cx="288.4" cy="1005.5" r="4.15" fill="#46da60" fill-opacity="0.93" stroke="#30a046" stroke-width="1.5"/>
<circle cx="288.4" cy="1021.9" r="4.15" fill="#46da60" fill-opacity="0.93" stroke="#30a046" stroke-width="1.5"/>
<circle cx="288.4" cy="1030.4" r="4.15" fill="#46da60" fill-opacity="0.93" stroke="#30a046" stroke-width="1.5"/>
<circle cx="288.4" cy="1043.6" r="4.15" fill="#46da60" fill-opacity="0.93" stroke="#30a046" stroke-width="1.5"/>
<circle cx="288.4" cy="1077.4" r="4.15" fill="#46da60" fill-opacity="0.93" stroke="#30a046" stroke-width="1.5"/>
<circle cx="308.1" cy="1011.2" r="4.15" fill="#46da60" fill-opacity="0.93" stroke="#30a046" stroke-width="1.5"/>
<circle cx="316.5" cy="1007.7" r="4.15" fill="#46da60" fill-opacity="0.93" stroke="#30a046" stroke-width="1.5"/>
<circle cx="312.7" cy="1036.5" r="4.15" fill="#46da60" fill-opacity="0.93" stroke="#30a046" stroke-width="1.5"/>
<circle cx="312.7" cy="1055.2" r="4.15" fill="#46da60" fill-opacity="0.93" stroke="#30a046" stroke-width="1.5"/>
<circle cx="312.7" cy="1108.1" r="4.15" fill="#46da60" fill-opacity="0.93" stroke="#30a046" stroke-width="1.5"/>
<circle cx="336.9" cy="1005.8" r="4.15" fill="#46da60" fill-opacity="0.93" stroke="#30a046" stroke-width="1.5"/>
<circle cx="336.9" cy="1034" r="4.15" fill="#46da60" fill-opacity="0.93" stroke="#30a046" stroke-width="1.5"/>
<circle cx="336.9" cy="1046.2" r="4.15" fill="#46da60" fill-opacity="0.93" stroke="#30a046" stroke-width="1.5"/>
<circle cx="336.9" cy="1092.3" r="4.15" fill="#46da60" fill-opacity="0.93" stroke="#30a046" stroke-width="1.5"/>
<circle cx="356.9" cy="1005.8" r="4.15" fill="#46da60" fill-opacity="0.93" stroke="#30a046" stroke-width="1.5"/>
<circle cx="365.2" cy="1008.3" r="4.15" fill="#46da60" fill-opacity="0.93" stroke="#30a046" stroke-width="1.5"/>
<circle cx="358" cy="1003" r="4.15" fill="#46da60" fill-opacity="0.93" stroke="#30a046" stroke-width="1.5"/>
<circle cx="361" cy="1028.5" r="4.15" fill="#46da60" fill-opacity="0.93" stroke="#30a046" stroke-width="1.5"/>
<circle cx="381.2" cy="1010" r="4.15" fill="#46da60" fill-opacity="0.93" stroke="#30a046" stroke-width="1.5"/>
<circle cx="389.2" cy="1018.7" r="4.15" fill="#46da60" fill-opacity="0.93" stroke="#30a046" stroke-width="1.5"/>
<circle cx="385" cy="1038.1" r="4.15" fill="#46da60" fill-opacity="0.93" stroke="#30a046" stroke-width="1.5"/>
<circle cx="385" cy="1049" r="4.15" fill="#46da60" fill-opacity="0.93" stroke="#30a046" stroke-width="1.5"/>
<circle cx="385" cy="1084" r="4.15" fill="#46da60" fill-opacity="0.93" stroke="#30a046" stroke-width="1.5"/>
<circle cx="409.4" cy="1018.3" r="4.15" fill="#46da60" fill-opacity="0.93" stroke="#30a046" stroke-width="1.5"/>
<circle cx="405.6" cy="1040.4" r="4.15" fill="#46da60" fill-opacity="0.93" stroke="#30a046" stroke-width="1.5"/>
<circle cx="413.8" cy="1045.8" r="4.15" fill="#46da60" fill-opacity="0.93" stroke="#30a046" stroke-width="1.5"/>
<circle cx="409.4" cy="1053.8" r="4.15" fill="#46da60" fill-opacity="0.93" stroke="#30a046" stroke-width="1.5"/>
<circle cx="409.4" cy="1075.4" r="4.15" fill="#46da60" fill-opacity="0.93" stroke="#30a046" stroke-width="1.5"/>
<circle cx="437.7" cy="1004.2" r="4.15" fill="#46da60" fill-opacity="0.93" stroke="#30a046" stroke-width="1.5"/>
<circle cx="429.6" cy="1007.3" r="4.15" fill="#46da60" fill-opacity="0.93" stroke="#30a046" stroke-width="1.5"/>
<circle cx="429.6" cy="1025" r="4.15" fill="#46da60" fill-opacity="0.93" stroke="#30a046" stroke-width="1.5"/>
<circle cx="437.7" cy="1030.8" r="4.15" fill="#46da60" fill-opacity="0.93" stroke="#30a046" stroke-width="1.5"/>
<path d="M239.5 1006V1041.8M234.7 1006H244.3M234.7 1041.8H244.3" stroke="#000" stroke-width="2" fill="none"/>
<path d="M263.76 1013.9V1068M258.96 1013.9H268.56M258.96 1068H268.56" stroke="#000" stroke-width="2" fill="none"/>
<path d="M288.02 1008.9V1063M283.22 1008.9H292.82M283.22 1063H292.82" stroke="#000" stroke-width="2" fill="none"/>
<path d="M312.28 1002.5V1084.6M307.48 1002.5H317.08M307.48 1084.6H317.08" stroke="#000" stroke-width="2" fill="none"/>
<path d="M336.54 1009.2V1080.8M331.74 1009.2H341.34M331.74 1080.8H341.34" stroke="#000" stroke-width="2" fill="none"/>
<path d="M360.8 1001.5V1023.1M356 1001.5H365.6M356 1023.1H365.6" stroke="#000" stroke-width="2" fill="none"/>
<path d="M385.06 1011.2V1069.2M380.26 1011.2H389.86M380.26 1069.2H389.86" stroke="#000" stroke-width="2" fill="none"/>
<path d="M409.32 1026.3V1067.3M404.52 1026.3H414.12M404.52 1067.3H414.12" stroke="#000" stroke-width="2" fill="none"/>
<path d="M433.58 1004.2V1029.2M428.78 1004.2H438.38M428.78 1029.2H438.38" stroke="#000" stroke-width="2" fill="none"/>
<rect x="486.7" y="1024.5" width="15" height="274.3" fill="#d8d8d8"/>
<rect x="510.9" y="1036.9" width="15" height="261.9" fill="#d8d8d8"/>
<rect x="535.1" y="1036.1" width="15" height="262.7" fill="#d8d8d8"/>
<rect x="559.3" y="1040.8" width="15" height="258" fill="#d8d8d8"/>
<rect x="583.5" y="1045" width="15" height="253.8" fill="#d8d8d8"/>
<rect x="607.7" y="1043.1" width="15" height="255.7" fill="#d8d8d8"/>
<rect x="631.9" y="1021.7" width="15" height="277.1" fill="#d8d8d8"/>
<rect x="656.1" y="1010.8" width="15" height="288" fill="#d8d8d8"/>
<rect x="680.3" y="1020.8" width="15" height="278" fill="#d8d8d8"/>
<circle cx="490.8" cy="1013.4" r="4.15" fill="#9e9e9e" fill-opacity="0.93" stroke="#525252" stroke-width="1.8"/>
<circle cx="498.5" cy="1012" r="4.15" fill="#9e9e9e" fill-opacity="0.93" stroke="#525252" stroke-width="1.8"/>
<circle cx="498.5" cy="1019.4" r="4.15" fill="#9e9e9e" fill-opacity="0.93" stroke="#525252" stroke-width="1.8"/>
<circle cx="490.8" cy="1027.7" r="4.15" fill="#9e9e9e" fill-opacity="0.93" stroke="#525252" stroke-width="1.8"/>
<circle cx="498.5" cy="1030" r="4.15" fill="#9e9e9e" fill-opacity="0.93" stroke="#525252" stroke-width="1.8"/>
<circle cx="490.8" cy="1036" r="4.15" fill="#9e9e9e" fill-opacity="0.93" stroke="#525252" stroke-width="1.8"/>
<circle cx="498.5" cy="1034.6" r="4.15" fill="#9e9e9e" fill-opacity="0.93" stroke="#525252" stroke-width="1.8"/>
<circle cx="518.4" cy="1009.8" r="4.15" fill="#9e9e9e" fill-opacity="0.93" stroke="#525252" stroke-width="1.8"/>
<circle cx="514.3" cy="1020.3" r="4.15" fill="#9e9e9e" fill-opacity="0.93" stroke="#525252" stroke-width="1.8"/>
<circle cx="522.6" cy="1027.2" r="4.15" fill="#9e9e9e" fill-opacity="0.93" stroke="#525252" stroke-width="1.8"/>
<circle cx="514.3" cy="1064.5" r="4.15" fill="#9e9e9e" fill-opacity="0.93" stroke="#525252" stroke-width="1.8"/>
<circle cx="522.6" cy="1062.6" r="4.15" fill="#9e9e9e" fill-opacity="0.93" stroke="#525252" stroke-width="1.8"/>
<circle cx="542.7" cy="1001.7" r="4.15" fill="#9e9e9e" fill-opacity="0.93" stroke="#525252" stroke-width="1.8"/>
<circle cx="542.7" cy="1022.5" r="4.15" fill="#9e9e9e" fill-opacity="0.93" stroke="#525252" stroke-width="1.8"/>
<circle cx="542.7" cy="1032.2" r="4.15" fill="#9e9e9e" fill-opacity="0.93" stroke="#525252" stroke-width="1.8"/>
<circle cx="542.7" cy="1041" r="4.15" fill="#9e9e9e" fill-opacity="0.93" stroke="#525252" stroke-width="1.8"/>
<circle cx="542.7" cy="1081.9" r="4.15" fill="#9e9e9e" fill-opacity="0.93" stroke="#525252" stroke-width="1.8"/>
<circle cx="567.1" cy="994" r="4.15" fill="#9e9e9e" fill-opacity="0.93" stroke="#525252" stroke-width="1.8"/>
<circle cx="562.9" cy="1024.4" r="4.15" fill="#9e9e9e" fill-opacity="0.93" stroke="#525252" stroke-width="1.8"/>
<circle cx="571.2" cy="1022.5" r="4.15" fill="#9e9e9e" fill-opacity="0.93" stroke="#525252" stroke-width="1.8"/>
<circle cx="567.1" cy="1041" r="4.15" fill="#9e9e9e" fill-opacity="0.93" stroke="#525252" stroke-width="1.8"/>
<circle cx="567.1" cy="1119.8" r="4.15" fill="#9e9e9e" fill-opacity="0.93" stroke="#525252" stroke-width="1.8"/>
<circle cx="591.1" cy="1007.3" r="4.15" fill="#9e9e9e" fill-opacity="0.93" stroke="#525252" stroke-width="1.8"/>
<circle cx="587" cy="1027.7" r="4.15" fill="#9e9e9e" fill-opacity="0.93" stroke="#525252" stroke-width="1.8"/>
<circle cx="595.3" cy="1034.1" r="4.15" fill="#9e9e9e" fill-opacity="0.93" stroke="#525252" stroke-width="1.8"/>
<circle cx="595.3" cy="1072" r="4.15" fill="#9e9e9e" fill-opacity="0.93" stroke="#525252" stroke-width="1.8"/>
<circle cx="587" cy="1082.5" r="4.15" fill="#9e9e9e" fill-opacity="0.93" stroke="#525252" stroke-width="1.8"/>
<circle cx="615.4" cy="1018.3" r="4.15" fill="#9e9e9e" fill-opacity="0.93" stroke="#525252" stroke-width="1.8"/>
<circle cx="615.4" cy="1037.4" r="4.15" fill="#9e9e9e" fill-opacity="0.93" stroke="#525252" stroke-width="1.8"/>
<circle cx="615.4" cy="1050.7" r="4.15" fill="#9e9e9e" fill-opacity="0.93" stroke="#525252" stroke-width="1.8"/>
<circle cx="615.4" cy="1065.3" r="4.15" fill="#9e9e9e" fill-opacity="0.93" stroke="#525252" stroke-width="1.8"/>
<circle cx="639.8" cy="956.1" r="4.15" fill="#9e9e9e" fill-opacity="0.93" stroke="#525252" stroke-width="1.8"/>
<circle cx="639.8" cy="1020.3" r="4.15" fill="#9e9e9e" fill-opacity="0.93" stroke="#525252" stroke-width="1.8"/>
<circle cx="639.8" cy="1031.9" r="4.15" fill="#9e9e9e" fill-opacity="0.93" stroke="#525252" stroke-width="1.8"/>
<circle cx="639.8" cy="1042.4" r="4.15" fill="#9e9e9e" fill-opacity="0.93" stroke="#525252" stroke-width="1.8"/>
<circle cx="639.8" cy="1057.6" r="4.15" fill="#9e9e9e" fill-opacity="0.93" stroke="#525252" stroke-width="1.8"/>
<circle cx="659.7" cy="1000.1" r="4.15" fill="#9e9e9e" fill-opacity="0.93" stroke="#525252" stroke-width="1.8"/>
<circle cx="668" cy="1005.1" r="4.15" fill="#9e9e9e" fill-opacity="0.93" stroke="#525252" stroke-width="1.8"/>
<circle cx="663.8" cy="996.8" r="4.15" fill="#9e9e9e" fill-opacity="0.93" stroke="#525252" stroke-width="1.8"/>
<circle cx="663.8" cy="1018.9" r="4.15" fill="#9e9e9e" fill-opacity="0.93" stroke="#525252" stroke-width="1.8"/>
<circle cx="663.8" cy="1032.7" r="4.15" fill="#9e9e9e" fill-opacity="0.93" stroke="#525252" stroke-width="1.8"/>
<circle cx="684.6" cy="1009.2" r="4.15" fill="#9e9e9e" fill-opacity="0.93" stroke="#525252" stroke-width="1.8"/>
<circle cx="692.6" cy="1009.2" r="4.15" fill="#9e9e9e" fill-opacity="0.93" stroke="#525252" stroke-width="1.8"/>
<circle cx="692.6" cy="1034.6" r="4.15" fill="#9e9e9e" fill-opacity="0.93" stroke="#525252" stroke-width="1.8"/>
<circle cx="684.6" cy="1041.6" r="4.15" fill="#9e9e9e" fill-opacity="0.93" stroke="#525252" stroke-width="1.8"/>
<path d="M494.2 1016.1V1032.2M489.4 1016.1H499M489.4 1032.2H499" stroke="#000" stroke-width="2" fill="none"/>
<path d="M518.4 1012V1061.7M513.6 1012H523.2M513.6 1061.7H523.2" stroke="#000" stroke-width="2" fill="none"/>
<path d="M542.6 1006.4V1065.9M537.8 1006.4H547.4M537.8 1065.9H547.4" stroke="#000" stroke-width="2" fill="none"/>
<path d="M566.8 992.6V1088.6M562 992.6H571.6M562 1088.6H571.6" stroke="#000" stroke-width="2" fill="none"/>
<path d="M591 1013.4V1076.1M586.2 1013.4H595.8M586.2 1076.1H595.8" stroke="#000" stroke-width="2" fill="none"/>
<path d="M615.2 1023V1063.1M610.4 1023H620M610.4 1063.1H620" stroke="#000" stroke-width="2" fill="none"/>
<path d="M639.4 982.4V1060.9M634.6 982.4H644.2M634.6 1060.9H644.2" stroke="#000" stroke-width="2" fill="none"/>
<path d="M663.6 995.4V1025.8M658.8 995.4H668.4M658.8 1025.8H668.4" stroke="#000" stroke-width="2" fill="none"/>
<path d="M687.8 1004.5V1036.9M683 1004.5H692.6M683 1036.9H692.6" stroke="#000" stroke-width="2" fill="none"/>
<path d="M336.3 981.2H434.8" stroke="#000" stroke-width="2"/>
<text x="385.55" y="972.7" font-family='"Liberation Sans", sans-serif' font-size="26.5" text-anchor="middle">ns</text>
<path d="M589.7 935.4H688.4" stroke="#000" stroke-width="2"/>
<text x="639.05" y="926.9" font-family='"Liberation Sans", sans-serif' font-size="26.5" text-anchor="middle">ns</text>
<path d="M256.5 1332.2L441.08 1310.5V1332.2Z" fill="#4a4a4a"/>
<text x="239" y="1333" font-family='"Liberation Sans", sans-serif' font-size="24" text-anchor="middle">0</text>
<path d="M510.4 1332.2L695.3 1310.5V1332.2Z" fill="#4a4a4a"/>
<text x="492.6" y="1333" font-family='"Liberation Sans", sans-serif' font-size="24" text-anchor="middle">0</text>
<text x="87.2" y="1140.9" font-family='"Liberation Sans", sans-serif' font-size="25.8" text-anchor="end">HTNV</text>
<text transform="translate(137.3 1141.83) rotate(-90)" font-family='"Liberation Sans", sans-serif' font-size="29.6" stroke="#000" stroke-width="0.7" text-anchor="middle" textLength="298" lengthAdjust="spacingAndGlyphs">Relative infectivity (%)</text>
<text x="752.8" y="1096.8" font-family='"Liberation Sans", sans-serif' font-size="26.1" font-weight="bold" stroke="#fff" stroke-width="0.35">mAb:</text>
<circle cx="758.9" cy="1122.2" r="6.4" fill="#46da60" stroke="#30a046" stroke-width="1.5"/>
<circle cx="758.8" cy="1155.7" r="6.4" fill="#a2a2a2" stroke="#525252" stroke-width="1.9"/>
<text x="776.5" y="1131.2" font-family='"Liberation Sans", sans-serif' font-size="24.5">3305</text>
<text x="776.5" y="1163.4" font-family='"Liberation Sans", sans-serif' font-size="24.5">Ctrl</text>
<text x="336.1" y="1382.8" font-family='"Liberation Sans", sans-serif' font-size="29.5" text-anchor="middle">[mAb-3305 (nM)]</text>
<text x="591.3" y="1382.8" font-family='"Liberation Sans", sans-serif' font-size="30.1" text-anchor="middle">[Ctrl mAb (nM)]</text>
</svg>
</body></html>
